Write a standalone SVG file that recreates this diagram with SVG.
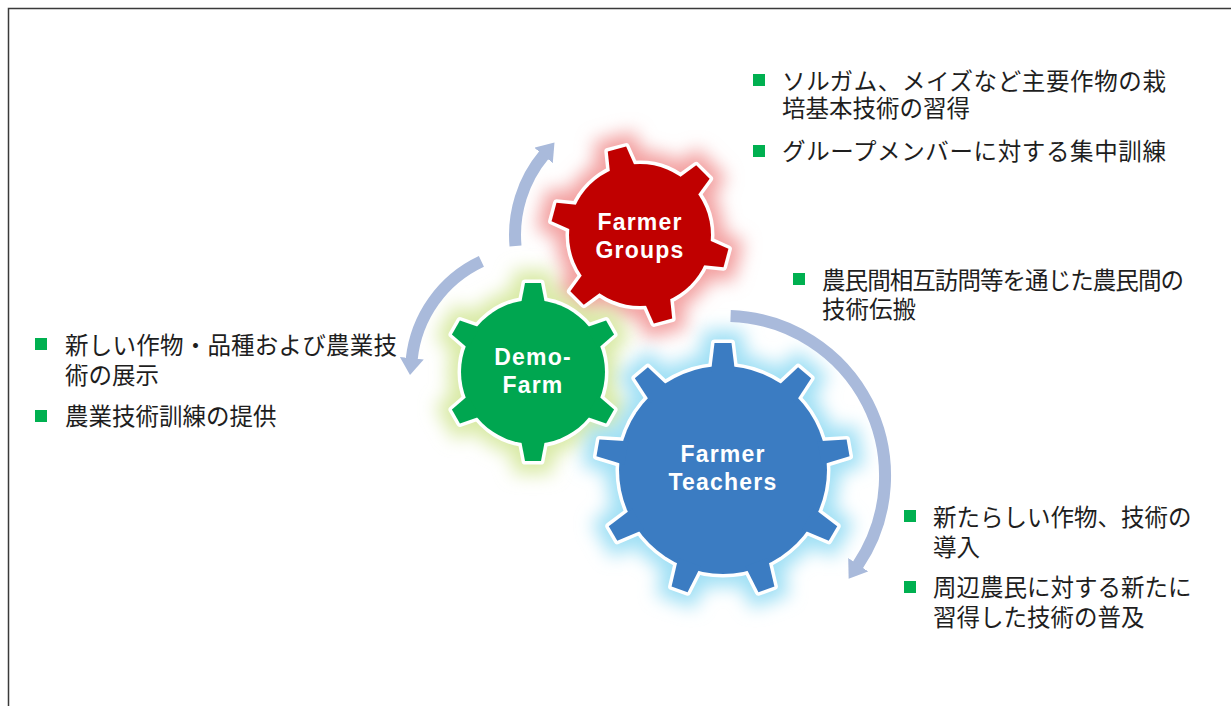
<svg xmlns="http://www.w3.org/2000/svg" xmlns:xlink="http://www.w3.org/1999/xlink" width="1231" height="706" viewBox="0 0 1231 706">
<style>
.jp{font-family:"Liberation Sans","Noto Sans CJK JP",sans-serif;font-size:23.5px;fill:#1e1e1e}
.lbl{font-family:"Liberation Sans",Arial,sans-serif;font-weight:bold;font-size:23px;fill:#ffffff;text-anchor:middle;letter-spacing:1.2px}
.bullet{fill:#00b050}
.outline{fill:#ffffff;stroke:#ffffff;stroke-width:7;stroke-linejoin:round}
.arc{fill:none;stroke:#a9badb;stroke-width:12;stroke-linecap:butt}
</style>
<defs>
<filter id="glow" x="-50%" y="-50%" width="200%" height="200%">
<feGaussianBlur stdDeviation="9"/>
</filter>
<marker id="ah" markerUnits="userSpaceOnUse" markerWidth="30" markerHeight="30" refX="1" refY="12" orient="auto">
<polygon points="0,0 17,12 0,24" fill="#a9badb"/>
</marker>
<polygon id="tb" points="-12,-98 -8.5,-127 8.5,-127 12,-98"/>
<polygon id="tg" points="-12,-68 -8,-89 8,-89 12,-68"/>
<polygon id="tr" points="-13,-67 -9.5,-89 9.5,-89 13,-67"/>
<g id="shapeBlue">
<circle r="104"/>
<use xlink:href="#tb"/><use xlink:href="#tb" transform="rotate(40)"/><use xlink:href="#tb" transform="rotate(80)"/>
<use xlink:href="#tb" transform="rotate(120)"/><use xlink:href="#tb" transform="rotate(160)"/><use xlink:href="#tb" transform="rotate(200)"/>
<use xlink:href="#tb" transform="rotate(240)"/><use xlink:href="#tb" transform="rotate(280)"/><use xlink:href="#tb" transform="rotate(320)"/>
</g>
<g id="shapeGreen">
<circle r="72"/>
<use xlink:href="#tg"/><use xlink:href="#tg" transform="rotate(60)"/><use xlink:href="#tg" transform="rotate(120)"/>
<use xlink:href="#tg" transform="rotate(180)"/><use xlink:href="#tg" transform="rotate(240)"/><use xlink:href="#tg" transform="rotate(300)"/>
</g>
<g id="shapeRed">
<circle r="71"/>
<use xlink:href="#tr" transform="rotate(-15)"/><use xlink:href="#tr" transform="rotate(45)"/><use xlink:href="#tr" transform="rotate(105)"/>
<use xlink:href="#tr" transform="rotate(165)"/><use xlink:href="#tr" transform="rotate(225)"/><use xlink:href="#tr" transform="rotate(285)"/>
</g>
</defs>
<rect x="0" y="0" width="1231" height="706" fill="#ffffff"/>
<path d="M8.5,706 V8.5 H1231" fill="none" stroke="#3a3a3a" stroke-width="1.5"/>

<g id="glows">
<use xlink:href="#shapeRed" transform="translate(640,235)" fill="#f3a0a0" stroke="#f3a0a0" stroke-width="26" filter="url(#glow)"/>
<use xlink:href="#shapeGreen" transform="translate(533,372)" fill="#d9eaa6" stroke="#d9eaa6" stroke-width="26" filter="url(#glow)"/>
<use xlink:href="#shapeBlue" transform="translate(723,470)" fill="#a0e0f5" stroke="#a0e0f5" stroke-width="26" filter="url(#glow)"/>
</g>

<g id="connectors">
<path class="arc" d="M515.5,245.9 A125,125 0 0 1 544.2,154.7" marker-end="url(#ah)"/>
<path class="arc" d="M481.4,261.4 A122,122 0 0 0 411.7,359.2" marker-end="url(#ah)"/>
<path class="arc" d="M730.6,316 A160,160 0 0 1 857.6,565.5" marker-end="url(#ah)"/>
</g>

<g id="node-farmer-groups">
<use xlink:href="#shapeRed" transform="translate(640,235)" class="outline"/>
<use xlink:href="#shapeRed" transform="translate(640,235)" fill="#c00000"/>
<text class="lbl" x="640" y="230">Farmer<tspan x="640" y="258">Groups</tspan></text>
</g>

<g id="node-demo-farm">
<use xlink:href="#shapeGreen" transform="translate(533,372)" class="outline"/>
<use xlink:href="#shapeGreen" transform="translate(533,372)" fill="#00a650"/>
<text class="lbl" x="533" y="365">Demo-<tspan x="533" y="393">Farm</tspan></text>
</g>

<g id="node-farmer-teachers">
<use xlink:href="#shapeBlue" transform="translate(723,470)" class="outline"/>
<use xlink:href="#shapeBlue" transform="translate(723,470)" fill="#3b7cc2"/>
<text class="lbl" x="723" y="462">Farmer<tspan x="723" y="490">Teachers</tspan></text>
</g>

<g id="text-groups">
<rect class="bullet" x="753" y="74" width="12" height="12"/>
<text class="jp" x="782" y="89.5"><tspan textLength="384" lengthAdjust="spacing">ソルガム、メイズなど主要作物の栽</tspan><tspan x="782" y="116.5">培基本技術の習得</tspan></text>
<rect class="bullet" x="753" y="145" width="12" height="12"/>
<text class="jp" x="782" y="160" textLength="384" lengthAdjust="spacing">グループメンバーに対する集中訓練</text>
</g>

<g id="text-teachers-top">
<rect class="bullet" x="793" y="273" width="12" height="12"/>
<text class="jp" x="822" y="289"><tspan textLength="362" lengthAdjust="spacing">農民間相互訪問等を通じた農民間の</tspan><tspan x="822" y="318">技術伝搬</tspan></text>
</g>

<g id="text-demo">
<rect class="bullet" x="35" y="338" width="12" height="12"/>
<text class="jp" x="65" y="354"><tspan textLength="332" lengthAdjust="spacing">新しい作物・品種および農業技</tspan><tspan x="65" y="384">術の展示</tspan></text>
<rect class="bullet" x="35" y="410" width="12" height="12"/>
<text class="jp" x="65" y="425">農業技術訓練の提供</text>
</g>

<g id="text-teachers-bottom">
<rect class="bullet" x="904" y="510" width="12" height="12"/>
<text class="jp" x="933" y="526">新たらしい作物、技術の<tspan x="933" y="556">導入</tspan></text>
<rect class="bullet" x="904" y="581" width="12" height="12"/>
<text class="jp" x="933" y="596">周辺農民に対する新たに<tspan x="933" y="626">習得した技術の普及</tspan></text>
</g>
</svg>
